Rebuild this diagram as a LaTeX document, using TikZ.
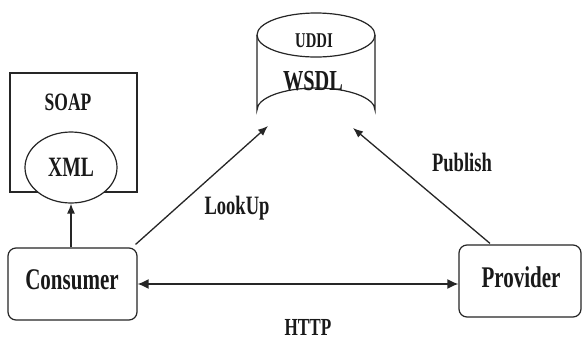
\documentclass[tikz,border=0pt]{standalone}
\usepackage{fontspec}
\setmainfont{Liberation Serif}[FakeStretch=0.7]
\usetikzlibrary{shapes.geometric,arrows.meta,calc}

\begin{document}
\begin{tikzpicture}[x=1pt,y=-1pt,
  ink/.style={draw=black!85, line width=1.2pt},
  lbl/.style={font=\bfseries\fontsize{#1}{#1}\selectfont, inner sep=0pt, text=black!90},
  party/.style={ink, rounded corners=8pt, fill=white, minimum width=#1, inner sep=0pt},
  arr/.style={draw=black!85, line width=1.3pt, -{Latex[length=10pt,width=8pt]}},
  arrboth/.style={draw=black!85, line width=1.5pt, {Latex[length=11pt,width=10pt]}-{Latex[length=11pt,width=10pt]}}
]
\useasboundingbox[fill=white] (0,0) rectangle (582,341);

% SOAP envelope holding the XML payload
\node[ink, minimum width=127pt, minimum height=119pt, inner sep=0pt] (soap) at (73.5,132.5) {};
\node[lbl=25] (soaplbl) at (68,102) {SOAP};
\node[ink, ellipse, fill=white, minimum width=92pt, minimum height=71pt, inner sep=0pt, lbl=28] (xml) at (71,167.5) {XML};

% UDDI registry drawn as a cylinder
\coordinate (cyl) at (316,35);
\draw[ink, fill=white] (257,35) -- (257,110) arc[start angle=180, end angle=360, x radius=59, y radius=22] -- (375,35);
\draw[ink] (cyl) ellipse[x radius=59, y radius=22];
\node[lbl=21] (uddi) at (314,41) {UDDI};
\node[lbl=29] (wsdl) at (313,81) {WSDL};
\coordinate (lookupEnd) at (268,126);
\coordinate (publishEnd) at (353,128);

% Service consumer and provider
\node[party=129pt, minimum height=72pt] (cons) at (72.5,284) {};
\node[lbl=30] (conslbl) at (72,280) {Consumer};
\node[party=122pt, minimum height=72pt] (prov) at (520,281) {};
\node[lbl=30] (provlbl) at (521,277) {Provider};

% Connectors
\draw[arr] (xml.south |- cons.north) -- (xml.south);
\draw[arr] ($(cons.north east)+(-2,-3)$) -- (lookupEnd);
\draw[arr] ($(prov.north)+(-30,-1)$) -- (publishEnd);
\draw[arrboth] (cons.east) -- (cons.east -| prov.west);

% Connector labels
\node[lbl=26.5] (lookup) at (237,208) {LookUp};
\node[lbl=26.5] (publish) at (462,162) {Publish};
\node[lbl=24.5] (http) at (308,327) {HTTP};
\end{tikzpicture}
\end{document}
